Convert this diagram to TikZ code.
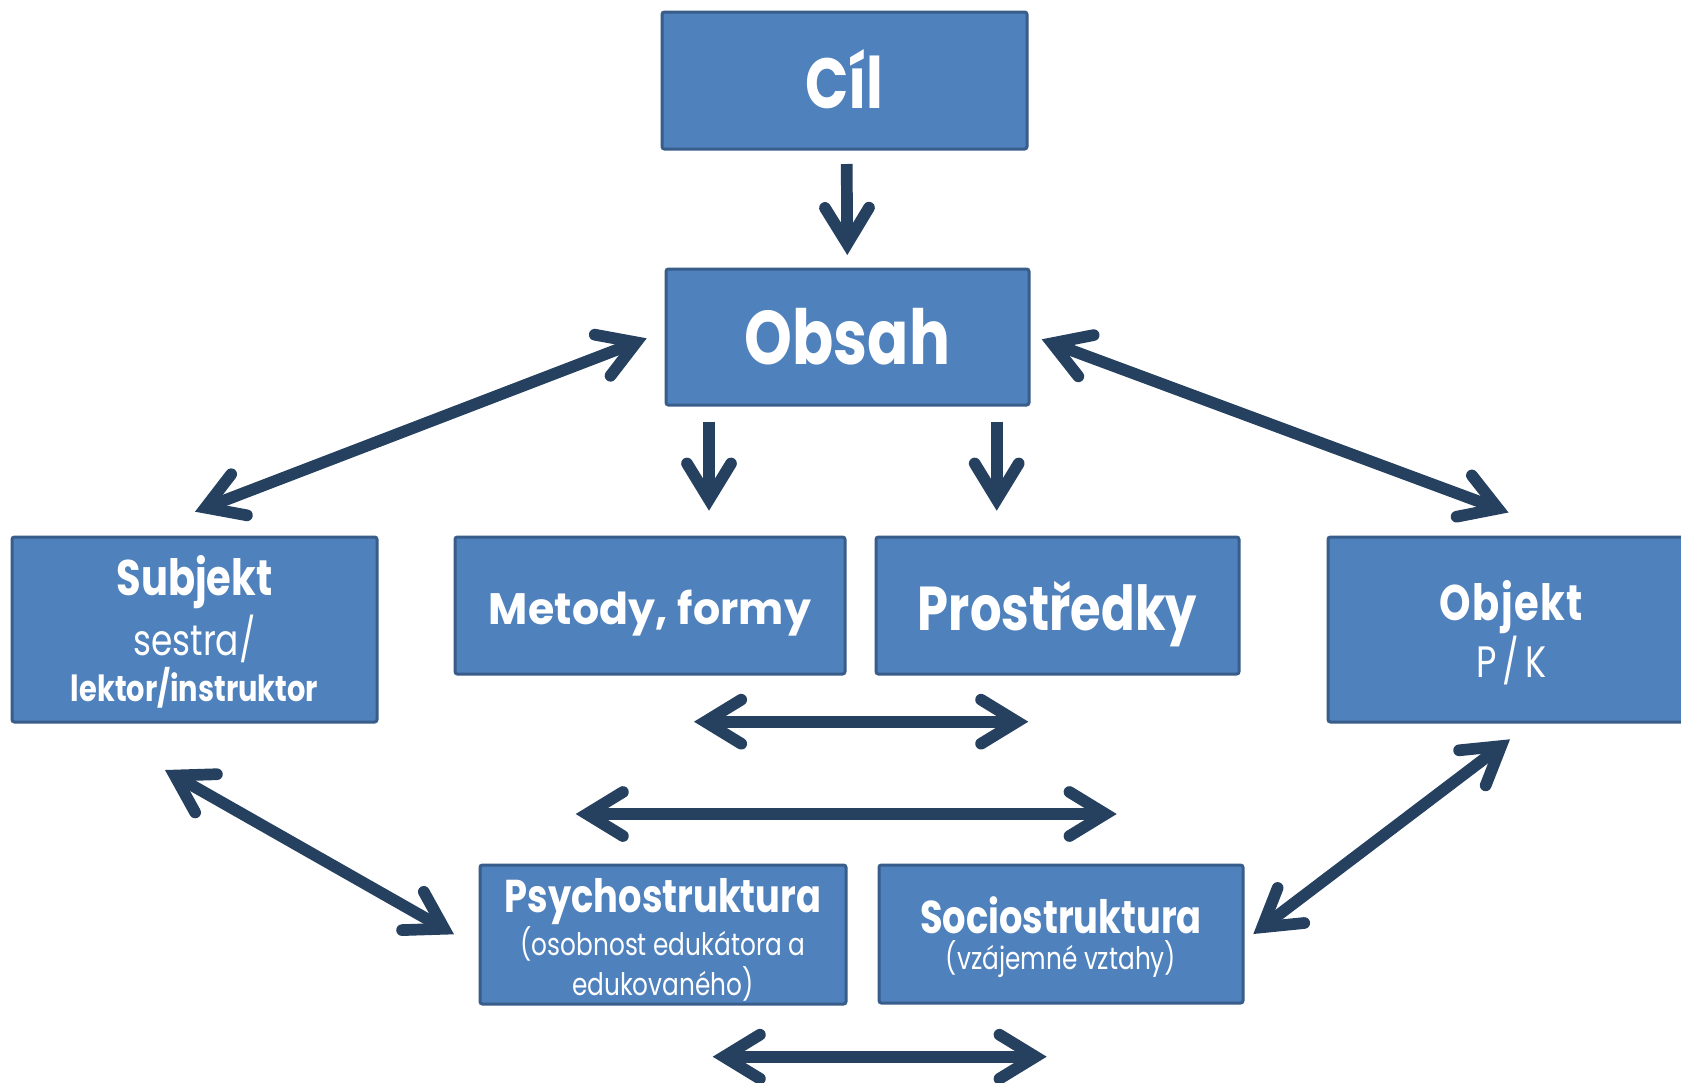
\documentclass[tikz,border=0pt]{standalone}
\usepackage{fontspec}
\setmainfont{Poppins}[FakeStretch=0.8]
\newfontfamily\widefont{Poppins}[FakeStretch=0.97]
\usetikzlibrary{arrows.meta}
\definecolor{boxfill}{RGB}{79,129,189}
\definecolor{boxline}{RGB}{56,93,138}
\definecolor{arrowc}{RGB}{38,64,96}
\tikzset{
  box/.style={draw=boxline, fill=boxfill, line width=1.5pt, rounded corners=1.2pt,
    text=white, align=center, inner sep=0pt},
  txt/.style={text=white, align=center, inner sep=0pt},
  >={Straight Barb[length=18pt,width=22pt,line cap=round,line join=miter]},
  conn/.style={draw=arrowc, line width=5.85pt, line cap=butt},
}
\begin{document}
\begin{tikzpicture}[x=0.5pt,y=-0.5pt]
\clip (0,0) rectangle (1681,1082);
\fill[white] (0,0) rectangle (1681,1082);
% boxes
\node[box, minimum width=182.5pt, minimum height=68.5pt, text height=27.5pt, text depth=0pt] (cil) at (844.5,80.5)
  {\fontsize{35.5}{40}\selectfont\bfseries Cíl};
\node[box, minimum width=181.5pt, minimum height=68pt, text height=27pt, text depth=0pt] (obsah) at (847.5,337)
  {\fontsize{38}{44}\selectfont\bfseries Obsah};
\node[box, minimum width=195pt, minimum height=68.5pt, text height=18.5pt, text depth=0pt] (metody) at (650,605.5)
  {\widefont\fontsize{22}{26}\selectfont\bfseries\addfontfeature{LetterSpace=0.5}Metody, formy};
\node[box, minimum width=181.5pt, minimum height=68.5pt, text height=24.5pt, text depth=0pt] (prostredky) at (1057.5,605.5)
  {\fontsize{31}{36}\selectfont\bfseries Prostředky};
\node[box, minimum width=182.5pt, minimum height=92.5pt] (subjekt) at (194.5,629.5) {};
\node[box, minimum width=183.5pt, minimum height=92.5pt] (objekt) at (1511.5,629.5) {};
\node[box, minimum width=183pt, minimum height=69.5pt] (psycho) at (663,934.5) {};
\node[box, minimum width=182pt, minimum height=69pt] (socio) at (1061,934) {};
% texts of the multi-line boxes
\node[txt, font=\fontsize{21.5}{30}\selectfont] (subjekt-t) at ([yshift=-1pt]subjekt.center)
  {{\bfseries\fontsize{25}{30}\selectfont Subjekt}\\ sestra/\\[-7pt] {\bfseries\fontsize{18}{30}\selectfont lektor/instruktor}};
\node[txt, font=\fontsize{22}{28.5}\selectfont] (objekt-t) at ([yshift=-1.8pt]objekt.center)
  {{\bfseries\fontsize{25}{28.5}\selectfont\addfontfeature{LetterSpace=3}Objekt}\\ P\kern3pt/\kern3pt K};
\node[txt, font=\fontsize{15.5}{19.7}\selectfont] (psycho-t) at ([yshift=-2.7pt]psycho.center)
  {{\bfseries\fontsize{23}{19.7}\selectfont Psychostruktura}\\ (osobnost edukátora a\\ edukovaného)};
\node[txt, font=\fontsize{15.5}{18.2}\selectfont] (socio-t) at ([yshift=-1.5pt]socio.center)
  {{\bfseries\fontsize{23}{18.2}\selectfont Sociostruktura}\\ (vzájemné vztahy)};
% arrow end points
\coordinate (c1a) at (846.7,164);   \coordinate (c1b) at (847.3,255);
\coordinate (c2a) at (709,421.7);   \coordinate (c2b) at (709,510.7);
\coordinate (c3a) at (996.7,421.7); \coordinate (c3b) at (996.7,510.7);
\coordinate (d1a) at (646.7,338.3); \coordinate (d1b) at (195,511.7);
\coordinate (d2a) at (1041.7,339.3);\coordinate (d2b) at (1508.5,512.5);
\coordinate (h1a) at (694,721.7);   \coordinate (h1b) at (1028.3,721.7);
\coordinate (h2a) at (575.7,814);   \coordinate (h2b) at (1116.7,814);
\coordinate (d3a) at (165,770);     \coordinate (d3b) at (454,934.3);
\coordinate (d4a) at (1510,739.3);  \coordinate (d4b) at (1253.3,934);
\coordinate (h3a) at (712.7,1056.7);\coordinate (h3b) at (1046.7,1056.7);
% connectors
\draw[conn,->] (c1a) -- (c1b);
\draw[conn,->] (c2a) -- (c2b);
\draw[conn,->] (c3a) -- (c3b);
\draw[conn,<->] (d1a) -- (d1b);
\draw[conn,<->] (d2a) -- (d2b);
\draw[conn,<->] (h1a) -- (h1b);
\draw[conn,<->] (h2a) -- (h2b);
\draw[conn,<->] (d3a) -- (d3b);
\draw[conn,<->] (d4a) -- (d4b);
\draw[conn,<->] (h3a) -- (h3b);
\end{tikzpicture}
\end{document}
